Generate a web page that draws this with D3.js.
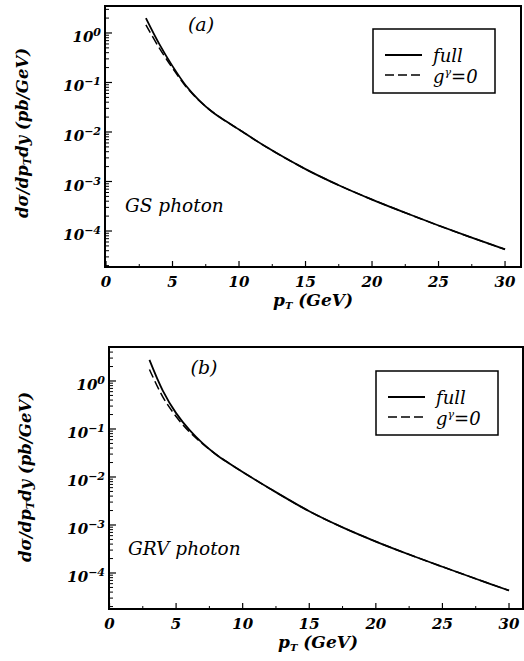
<!DOCTYPE html>
<html>
<head>
<meta charset="utf-8">
<script src="https://cdn.jsdelivr.net/npm/d3@7"></script>
<style>
  body { margin:0; background:#fff; }
  svg text { font-family: "DejaVu Serif", "Liberation Serif", serif; font-style: italic; fill:#000; }
</style>
</head>
<body>
<svg width="524" height="661"></svg>
<script>
// pT points (GeV)
var pt = [3, 4, 5, 6, 7, 8, 9, 10, 12, 15, 17.5, 20, 22.5, 25, 27.5, 30];

// (a) GS photon, d sigma / dpT dy in pb/GeV
var gs_full = [2.0, 0.603, 0.214, 0.0871, 0.0437, 0.0254, 0.0166, 0.0112, 0.00508, 0.00178, 0.000841, 0.000432, 0.000234, 0.000129, 0.0000733, 0.0000427];
var gs_nogam = [1.45, 0.50, 0.195, 0.0832, 0.0432, 0.0254, 0.0166, 0.0112, 0.00508, 0.00178, 0.000841, 0.000432, 0.000234, 0.000129, 0.0000733, 0.0000427];

// (b) GRV photon
var grv_full = [2.75, 0.631, 0.214, 0.0955, 0.0501, 0.0295, 0.0191, 0.0127, 0.00582, 0.00193, 0.000891, 0.000452, 0.000243, 0.000135, 0.0000759, 0.0000432];
var grv_nogam = [1.74, 0.468, 0.182, 0.0871, 0.049, 0.0295, 0.0191, 0.0127, 0.00582, 0.00193, 0.000891, 0.000452, 0.000243, 0.000135, 0.0000759, 0.0000432];

var x_ticks = [0, 5, 10, 15, 20, 25, 30];
var y_decades = [0, -1, -2, -3, -4];
var legend_names = ["full", "g=0"];

var svg = d3.select("svg");

function draw_panel(p)
{
  var g = svg.append("g");
  var x = d3.scaleLinear().domain([0, p.xmax]).range([p.left + p.x0off, p.right]);
  var y = d3.scaleLog().domain([Math.pow(10, p.ylo), Math.pow(10, p.yhi)]).range([p.bottom, p.top]);

  // frame
  g.append("rect")
    .attr("x", p.left).attr("y", p.top)
    .attr("width", p.right - p.left).attr("height", p.bottom - p.top)
    .attr("fill", "none").attr("stroke", "#000").attr("stroke-width", 2);

  // x ticks, inward
  var xmaj = x_ticks;
  var xmin = [];
  for(var i=0;i<xmaj.length;i++) xmin.push(xmaj[i]+2.5);
  g.selectAll("line.xmaj").data(xmaj).enter().append("line")
    .attr("x1", d => x(d)).attr("x2", d => x(d))
    .attr("y1", p.bottom).attr("y2", p.bottom-6)
    .attr("stroke", "#000").attr("stroke-width", 1.2);
  g.selectAll("line.xmin").data(xmin).enter().append("line")
    .attr("x1", d => x(d)).attr("x2", d => x(d))
    .attr("y1", p.bottom).attr("y2", p.bottom-3)
    .attr("stroke", "#000").attr("stroke-width", 1);
  g.selectAll("text.xt").data(xmaj).enter().append("text")
    .attr("x", d => x(d)).attr("y", p.bottom + 20)
    .attr("text-anchor", "middle")
    .attr("font-size", 15).attr("font-weight", "bold")
    .text(d => d);

  // y ticks (log), inward on left axis
  var ymaj = [];
  var ymin = [];
  for(var e=-5;e<=1;e++)
  {
    var v = Math.pow(10, e);
    if(e>=p.ylo && e<=p.yhi) ymaj.push(v);
    for(var k=2;k<=9;k++)
    {
      var lv = e + Math.log10(k);
      if(lv>p.ylo && lv<p.yhi) ymin.push(k*v);
    }
  }
  g.selectAll("line.ymaj").data(ymaj).enter().append("line")
    .attr("x1", p.left).attr("x2", p.left+7)
    .attr("y1", d => y(d)).attr("y2", d => y(d))
    .attr("stroke", "#000").attr("stroke-width", 1.2);
  g.selectAll("line.ymin").data(ymin).enter().append("line")
    .attr("x1", p.left).attr("x2", p.left+4)
    .attr("y1", d => y(d)).attr("y2", d => y(d))
    .attr("stroke", "#000").attr("stroke-width", 1);

  var yl = g.selectAll("text.yt").data(y_decades).enter().append("text")
    .attr("x", p.left - 4).attr("y", d => y(Math.pow(10, d)) + p.lab_dy)
    .attr("text-anchor", "end")
    .attr("font-size", 15).attr("font-weight", "bold");
  yl.append("tspan").text("10");
  yl.append("tspan").attr("dy", -6).attr("font-size", 11).text(d => d==0 ? "0" : "\u2212" + (-d));

  // curves
  var line = d3.line()
    .x((d, i) => x(pt[i]))
    .y(d => y(d))
    .curve(d3.curveCatmullRom.alpha(0.5));
  g.append("path").datum(p.full)
    .attr("d", line).attr("fill", "none")
    .attr("stroke", "#000").attr("stroke-width", 1.8);
  g.append("path").datum(p.nogam)
    .attr("d", line).attr("fill", "none")
    .attr("stroke", "#000").attr("stroke-width", 1.5)
    .attr("stroke-dasharray", "9,4");

  // panel tag and pdf name
  g.append("text").attr("x", p.tag_x).attr("y", p.tag_y)
    .attr("text-anchor", "middle").attr("font-size", 19)
    .text(p.tag);
  g.append("text").attr("x", p.name_x).attr("y", p.name_y)
    .attr("font-size", 18.5)
    .text(p.name);

  // legend
  var lg = g.append("g").attr("transform", "translate(" + p.leg_x + "," + p.leg_y + ")");
  lg.append("rect").attr("x", 0).attr("y", 0).attr("width", 122).attr("height", 64)
    .attr("fill", "#fff").attr("stroke", "#000").attr("stroke-width", 1.5);
  lg.append("line").attr("x1", 12).attr("x2", 49).attr("y1", 26).attr("y2", 26)
    .attr("stroke", "#000").attr("stroke-width", 1.8);
  lg.append("line").attr("x1", 12).attr("x2", 49).attr("y1", 46).attr("y2", 46)
    .attr("stroke", "#000").attr("stroke-width", 1.5).attr("stroke-dasharray", "9,4");
  lg.append("text").attr("x", 60).attr("y", 33).attr("font-size", 18).text(legend_names[0]);
  var t2 = lg.append("text").attr("x", 60).attr("y", 54).attr("font-size", 18);
  t2.append("tspan").text("g");
  t2.append("tspan").attr("dy", -7).attr("font-size", 11).text("\u03b3");
  t2.append("tspan").attr("dy", 7).text("=0");

  // axis titles
  var xt = g.append("text").attr("x", p.xlab_x).attr("y", p.bottom + 39)
    .attr("text-anchor", "middle").attr("font-size", 17).attr("font-weight", "bold");
  xt.append("tspan").text("p");
  xt.append("tspan").attr("dy", 3).attr("font-size", 10).text("T");
  xt.append("tspan").attr("dy", -3).text(" (GeV)");

  var yt = g.append("text")
    .attr("transform", "translate(" + p.ylab_x + "," + p.ylab_y + ") rotate(-90)")
    .attr("text-anchor", "middle").attr("font-size", 16.5).attr("font-weight", "bold");
  yt.append("tspan").text("d\u03c3/dp");
  yt.append("tspan").attr("dy", 3).attr("font-size", 11).text("T");
  yt.append("tspan").attr("dy", -3).text("dy (pb/GeV)");
}

draw_panel({
  left:105, right:521, top:6, bottom:267, x0off:1, xmax:31.2,
  ylo:-4.727, yhi:0.545, lab_dy:9,
  full:gs_full, nogam:gs_nogam,
  tag:"(a)", tag_x:201, tag_y:31,
  name:"GS photon", name_x:125, name_y:212,
  leg_x:373, leg_y:29,
  xlab_x:313, ylab_x:28, ylab_y:133
});

draw_panel({
  left:109, right:523, top:347, bottom:609, x0off:0.5, xmax:31.05,
  ylo:-4.75, yhi:0.708, lab_dy:9,
  full:grv_full, nogam:grv_nogam,
  tag:"(b)", tag_x:204, tag_y:374,
  name:"GRV photon", name_x:128, name_y:555,
  leg_x:376, leg_y:371,
  xlab_x:318, ylab_x:31, ylab_y:477
});
</script>
</body>
</html>
